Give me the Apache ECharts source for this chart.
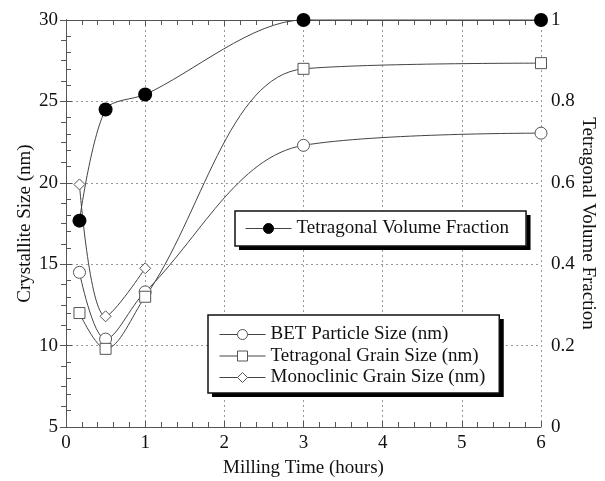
<!DOCTYPE html>
<html><head><meta charset="utf-8">
<script src="https://cdn.jsdelivr.net/npm/echarts@6/dist/echarts.min.js"></script>
<style>html,body{margin:0;padding:0;background:#fff}#c{width:605px;height:481px}</style>
</head><body><div id="c"></div>
<script>
var timeAll = [0.17, 0.5, 1, 3, 6];
var timeMono = [0.17, 0.5, 1];
var betSize = [14.5, 10.4, 13.3, 22.3, 23.05];
var tetGrain = [12.0, 9.8, 13.0, 27.0, 27.35];
var monoGrain = [19.9, 11.8, 14.75];
var tetFraction = [0.507, 0.78, 0.817, 1.0, 1.0];
var legendTop = ['Tetragonal Volume Fraction'];
var legendBottom = ['BET Particle Size (nm)', 'Tetragonal Grain Size (nm)', 'Monoclinic Grain Size (nm)'];

function pairs(xs, ys){ return xs.map(function(x,i){ return [x, ys[i]]; }); }

var F = '"Liberation Serif", "Times New Roman", serif';
var txt = {fontFamily: F, fontSize: 19, color: '#111'};
var axisCol = '#555';
var lineCol = '#444';

var chart = echarts.init(document.getElementById('c'));
var legendCommon = {
  orient: 'vertical', itemWidth: 46, itemHeight: 12.5,
  textStyle: txt,
  backgroundColor: 'transparent', borderColor: '#111', borderWidth: 1.5,
  lineStyle: {width: 1, color: lineCol},
  itemStyle: {borderWidth: 1}, z: 20
};
var shadowCommon = {
  orient: 'vertical', itemWidth: 46, itemHeight: 12.5,
  textStyle: Object.assign({}, txt, {color: 'rgba(0,0,0,0)'}),
  backgroundColor: '#fff', borderWidth: 0,
  shadowColor: '#000', shadowBlur: 0, shadowOffsetX: 4, shadowOffsetY: 4,
  lineStyle: {opacity: 0}, itemStyle: {opacity: 0}, z: 19
};
var pad1 = [8, 17, 8, 10], pad2 = [10, 14, 6, 11];
chart.setOption({
  animation: false,
  backgroundColor: '#fff',
  grid: {left: 66, right: 64, top: 20, bottom: 54, containLabel: false, outerBoundsMode: 'none'},
  xAxis: [{
    type: 'value', min: 0, max: 6, interval: 1, position: 'bottom',
    name: 'Milling Time (hours)', nameLocation: 'middle', nameGap: 32, nameMoveOverlap: false,
    nameTextStyle: txt,
    axisLine: {lineStyle: {color: axisCol, width: 1}},
    axisTick: {inside: true, length: 6, lineStyle: {color: axisCol}},
    minorTick: {show: true, splitNumber: 5, length: 5, lineStyle: {color: axisCol}},
    axisLabel: Object.assign({margin: 7}, txt),
    splitLine: {show: true, lineStyle: {color: '#999', type: [2, 3], width: 1}}
  }, {
    type: 'value', min: 0, max: 6, interval: 1, position: 'top',
    axisLine: {lineStyle: {color: axisCol, width: 1}},
    axisTick: {inside: true, length: 6, lineStyle: {color: axisCol}},
    minorTick: {show: true, splitNumber: 5, length: 5, lineStyle: {color: axisCol}},
    axisLabel: {show: false}, splitLine: {show: false}
  }],
  yAxis: [{
    type: 'value', min: 5, max: 30, interval: 5, position: 'left',
    name: 'Crystallite Size (nm)', nameLocation: 'middle', nameGap: 31, nameMoveOverlap: false,
    nameTextStyle: txt,
    axisLine: {show: true, lineStyle: {color: axisCol, width: 1}},
    axisTick: {show: true, inside: true, length: 6, lineStyle: {color: axisCol}},
    minorTick: {show: true, splitNumber: 5, length: 5, lineStyle: {color: axisCol}},
    axisLabel: Object.assign({margin: 8}, txt),
    splitLine: {show: true, lineStyle: {color: '#999', type: [2, 3], width: 1}}
  }, {
    type: 'value', min: 0, max: 1, interval: 0.2, position: 'right',
    name: 'Tetragonal Volume Fraction', nameLocation: 'middle', nameGap: 37, nameRotate: -90, nameMoveOverlap: false,
    nameTextStyle: txt,
    axisLine: {show: true, lineStyle: {color: axisCol, width: 1}},
    axisTick: {show: true, inside: true, length: 6, lineStyle: {color: axisCol}},
    minorTick: {show: true, splitNumber: 4, length: 5, lineStyle: {color: axisCol}},
    axisLabel: Object.assign({margin: 10}, txt),
    splitLine: {show: false}
  }],
  legend: [
    Object.assign({}, shadowCommon, {data: legendTop, left: 235, top: 211, padding: pad1}),
    Object.assign({}, shadowCommon, {data: legendBottom, left: 208, top: 315, padding: pad2, itemGap: 2.5}),
    Object.assign({}, legendCommon, {data: legendTop, left: 235, top: 211, padding: pad1}),
    Object.assign({}, legendCommon, {data: legendBottom, left: 208, top: 315, padding: pad2, itemGap: 2.5})
  ],
  series: [{
    name: legendBottom[0], type: 'line', xAxisIndex: 0, yAxisIndex: 0,
    data: pairs(timeAll, betSize), smooth: 0.35, clip: false,
    symbol: 'circle', symbolSize: 12,
    lineStyle: {color: lineCol, width: 1},
    itemStyle: {color: '#fff', borderColor: axisCol, borderWidth: 1}
  }, {
    name: legendBottom[1], type: 'line', xAxisIndex: 0, yAxisIndex: 0,
    data: pairs(timeAll, tetGrain), smooth: 0.35, clip: false,
    symbol: 'rect', symbolSize: 11,
    lineStyle: {color: lineCol, width: 1},
    itemStyle: {color: '#fff', borderColor: axisCol, borderWidth: 1}
  }, {
    name: legendBottom[2], type: 'line', xAxisIndex: 0, yAxisIndex: 0,
    data: pairs(timeMono, monoGrain), smooth: 0.35, clip: false,
    symbol: 'diamond', symbolSize: [11, 11],
    lineStyle: {color: lineCol, width: 1},
    itemStyle: {color: '#fff', borderColor: axisCol, borderWidth: 1}
  }, {
    name: legendTop[0], type: 'line', xAxisIndex: 0, yAxisIndex: 1,
    data: pairs(timeAll, tetFraction), smooth: 0.3, clip: false, z: 4,
    symbol: 'circle', symbolSize: 14,
    lineStyle: {color: lineCol, width: 1},
    itemStyle: {color: '#000', borderColor: '#000', borderWidth: 0}
  }]
});
</script></body></html>
